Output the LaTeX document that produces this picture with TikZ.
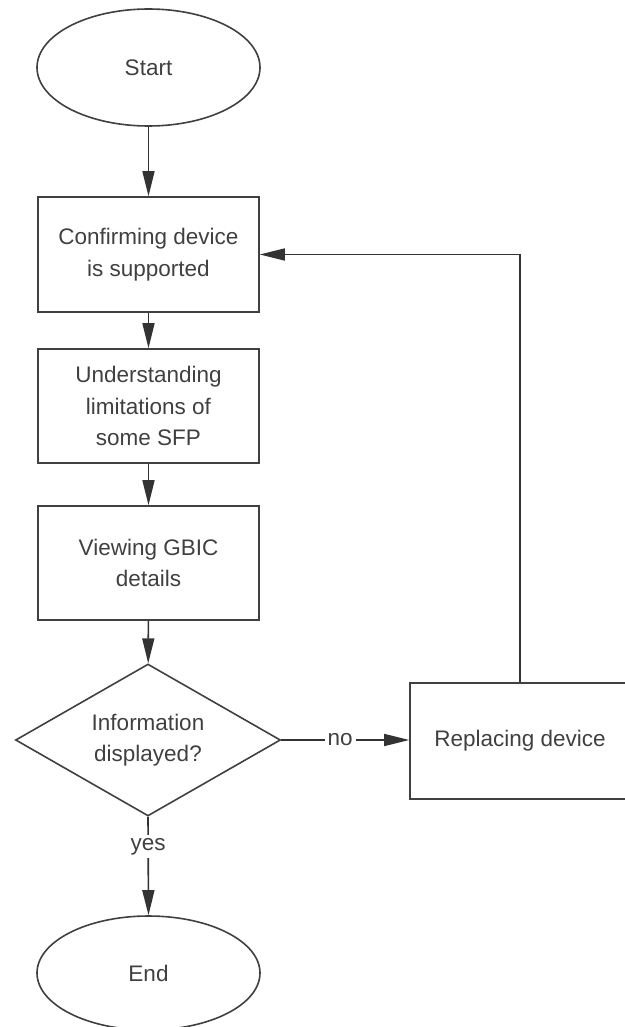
\documentclass[tikz,border=0pt]{standalone}
\usepackage{fontspec}
\setmainfont{Liberation Sans}
\usetikzlibrary{shapes.geometric,arrows.meta}
\begin{document}
\begin{tikzpicture}[x=1pt,y=1pt,
  every node/.style={font=\fontsize{22.5}{31.5}\selectfont, text=black!75},
  base/.style={draw=black!75, line width=1.6pt, inner sep=0pt, align=center},
  term/.style={base, ellipse, minimum width=223pt, minimum height=117pt},
  procbox/.style={base, rectangle, minimum width=221pt, minimum height=115pt},
  decide/.style={base, diamond, aspect=1.74, minimum width=265pt, minimum height=152pt},
  conn/.style={draw=black!80, line width=1.6pt, -{Triangle[length=25pt,width=12pt]}},
  lbl/.style={fill=white, inner sep=3pt}]
\useasboundingbox (0,0) rectangle (624,-1027);
\node[term] (start) at (148.5,-67.5) {Start};
\node[procbox] (b1) at (148.5,-254.5) {Confirming device\\is supported};
\node[procbox, minimum height=114pt] (b2) at (148.5,-406) {Understanding\\limitations of\\some SFP};
\node[procbox, minimum height=114pt] (b3) at (148.5,-563) {Viewing GBIC\\details};
\node[decide] (dec) at (148,-740) {Information\\displayed?};
\node[procbox, minimum width=220pt, minimum height=116pt] (rep) at (520,-741) {Replacing device};
\node[term, minimum height=114pt] (end) at (148.5,-973) {End};
\draw[conn] (start) -- (b1);
\draw[conn] (b1) -- (b2);
\draw[conn] (b2) -- (b3);
\draw[conn] (b3) -- (dec);
\draw[conn] (dec.east) -- node[lbl, pos=0.46] (nolbl) {no} (rep.west |- dec.east);
\draw[conn] (dec.south) -- node[lbl, pos=0.3] (yeslbl) {yes} (end.north);
\draw[conn] (rep.north) |- (b1.east);
\end{tikzpicture}
\end{document}
